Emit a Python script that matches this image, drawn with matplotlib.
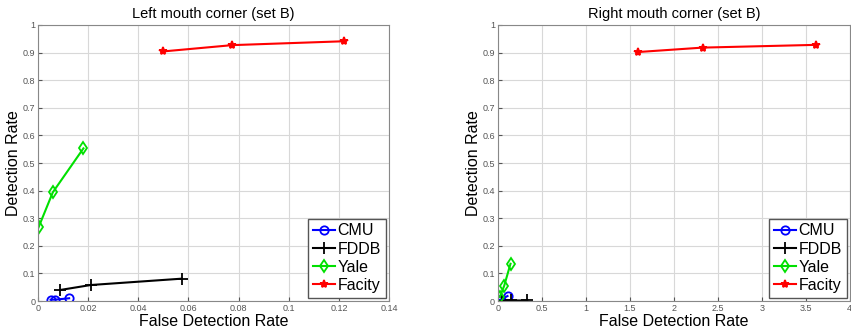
import numpy as np
import matplotlib.pyplot as plt

plt.rcParams['font.family'] = ['Liberation Sans', 'DejaVu Sans']

names = ['CMU', 'FDDB', 'Yale', 'Facity']

# left mouth corner (set B)
left_cmu_x = [0.005, 0.0068, 0.0124]
left_cmu_y = [0.005, 0.005, 0.01]
left_fddb_x = [0.0088, 0.021, 0.0573]
left_fddb_y = [0.04, 0.058, 0.081]
left_yale_x = [0.0002, 0.0059, 0.0181]
left_yale_y = [0.267, 0.394, 0.553]
left_facity_x = [0.0497, 0.0775, 0.122]
left_facity_y = [0.904, 0.927, 0.941]

# right mouth corner (set B)
right_cmu_x = [0.005, 0.03, 0.11]
right_cmu_y = [0.003, 0.005, 0.018]
right_fddb_x = [0.05, 0.15, 0.335]
right_fddb_y = [0.001, 0.002, 0.002]
right_yale_x = [0.023, 0.072, 0.144]
right_yale_y = [0.015, 0.055, 0.135]
right_facity_x = [1.594, 2.326, 3.62]
right_facity_y = [0.902, 0.918, 0.928]

styles = [
    dict(color='#0000ff', marker='o', mfc='none', ms=6, mew=1.3),
    dict(color='black', marker='+', ms=8, mew=1.3),
    dict(color='#00e000', marker='d', mfc='none', ms=6, mew=1.3),
    dict(color='#ff0000', marker='*', ms=6, mew=1.3),
]

fig = plt.figure(figsize=(8.51, 3.33), dpi=100)
ax1 = fig.add_axes([0.0447, 0.096, 0.4125, 0.829])
ax2 = fig.add_axes([0.585, 0.096, 0.4136, 0.829])

panels = [
    (ax1, 'Left mouth corner (set B)',
     [(left_cmu_x, left_cmu_y), (left_fddb_x, left_fddb_y),
      (left_yale_x, left_yale_y), (left_facity_x, left_facity_y)],
     (0, 0.14), np.arange(0, 0.141, 0.02), ['0', '0.02', '0.04', '0.06', '0.08', '0.1', '0.12', '0.14']),
    (ax2, 'Right mouth corner (set B)',
     [(right_cmu_x, right_cmu_y), (right_fddb_x, right_fddb_y),
      (right_yale_x, right_yale_y), (right_facity_x, right_facity_y)],
     (0, 4), np.arange(0, 4.01, 0.5), ['0', '0.5', '1', '1.5', '2', '2.5', '3', '3.5', '4']),
]

yticks = np.arange(0, 1.01, 0.1)
ylabels = ['0'] + ['%.1f' % v for v in yticks[1:-1]] + ['1']

for ax, title, series, xlim, xt, xtl in panels:
    for (x, y), name, st in zip(series, names, styles):
        ax.plot(x, y, lw=1.5, label=name, **st)
    ax.set_xlim(*xlim)
    ax.set_ylim(0, 1)
    ax.set_xticks(xt)
    ax.set_xticklabels(xtl)
    ax.set_yticks(yticks)
    ax.set_yticklabels(ylabels)
    ax.tick_params(direction='in', labelsize=6.5, colors='#555555', length=3, pad=2)
    ax.grid(True, color='#d8d8d8', lw=0.8)
    for s in ax.spines.values():
        s.set_color('#888888')
        s.set_linewidth(0.8)
    ax.set_title(title, fontsize=10.5, pad=5)
    ax.set_xlabel('False Detection Rate', fontsize=11.5, labelpad=1)
    ax.set_ylabel('Detection Rate', fontsize=11.5, labelpad=1)
    leg = ax.legend(loc='lower right', fontsize=11.5, handlelength=1.4, handletextpad=0.15,
                    borderpad=0.3, labelspacing=0.2, fancybox=False, framealpha=1,
                    borderaxespad=0.2)
    leg.get_frame().set_edgecolor('#555555')

fig.savefig('out.png', dpi=100)
